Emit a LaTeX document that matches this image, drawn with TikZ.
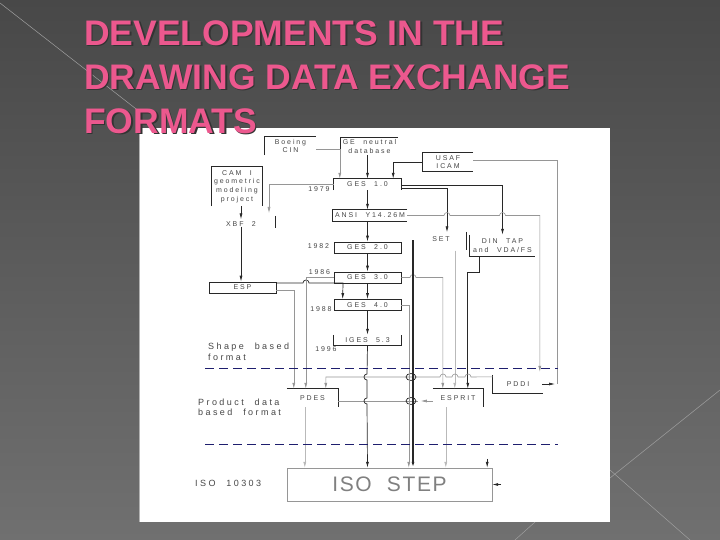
\documentclass[tikz,border=0pt]{standalone}
\usepackage{fontspec}
\usetikzlibrary{arrows.meta}
\newfontfamily\cadfont[LetterSpace=27,WordSpace=2.2]{Liberation Sans}
\newfontfamily\isofont[LetterSpace=8,WordSpace=2]{Liberation Sans}
\newfontfamily\titlefont{Liberation Sans}
\definecolor{bgtop}{RGB}{72,72,72}
\definecolor{bgbot}{RGB}{112,112,112}
\definecolor{pinktitle}{RGB}{236,88,142}
\definecolor{cadink}{RGB}{40,40,40}
\definecolor{cadtext}{RGB}{70,70,70}
\definecolor{cadgray}{RGB}{150,150,150}
\definecolor{cadlight}{RGB}{185,185,185}
\definecolor{sepblue}{RGB}{30,30,110}

\begin{document}
\begin{tikzpicture}[x=1pt,y=-1pt]
   \tikzstyle{every node}=[font=\cadfont\fontsize{7}{8.7}\selectfont, text=cadtext, inner sep=0pt, align=center]
   \tikzstyle{cadbox}=[minimum width=67pt, minimum height=11pt]
   \tikzstyle{fullbox}=[cadbox, draw=cadink, line width=0.7pt]
   \tikzstyle{sidetext}=[font=\cadfont\fontsize{9}{10.5}\selectfont, align=left, anchor=west]
   \tikzstyle{wire}=[draw=cadink, line width=0.7pt]
   \tikzstyle{gwire}=[draw=cadgray, line width=0.6pt]
   \tikzstyle{lwire}=[draw=cadlight, line width=0.6pt]
   \tikzstyle{flow}=[-{Latex[length=6pt,width=3pt]}]
   \tikzstyle{divider}=[draw=sepblue, line width=0.9pt, dash pattern=on 9pt off 5pt]
   \tikzstyle{headline}=[font=\titlefont\bfseries\fontsize{35.5}{44}\selectfont, align=left, anchor=north west]

\shade[top color=bgtop, bottom color=bgbot] (0,0) rectangle (720,540);
\useasboundingbox (0,0) rectangle (720,540);
\draw[gray!75, line width=0.5pt] (0,3) -- (140,112);
\draw[gray!75, line width=0.5pt] (720,390) -- (610,478);
\draw[gray!75, line width=0.5pt] (610,470) -- (690,540);
\draw[gray!75, line width=0.5pt] (515,540) -- (535,522);
\fill[white] (139,128) rectangle (610,522);
\draw[gray!60, line width=1pt] (139,128) -- (139,522);

\node[headline, text=black!80] (titleshade) at (85.5,22) {DEVELOPMENTS IN THE\\DRAWING DATA EXCHANGE\\FORMATS};
\node[headline, text=pinktitle] (title) at (84,20.6) {DEVELOPMENTS IN THE\\DRAWING DATA EXCHANGE\\FORMATS};

\node[cadbox] (ges1) at (367.5,184.5) {GES 1.0};
\node[cadbox, minimum width=74pt] (ansi) at (370,215.5) {ANSI Y14.26M};
\node[fullbox] (ges2) at (367.5,247.5) {GES 2.0};
\node[fullbox] (ges3) at (367.5,277.5) {GES 3.0};
\node[fullbox] (ges4) at (367.5,305) {GES 4.0};
\node[cadbox, minimum height=10pt] (iges) at (367.5,340) {IGES 5.3};
\node[cadbox, minimum width=51pt, minimum height=18pt] (boeing) at (290.5,146) {Boeing\\CIN};
\node[cadbox, minimum width=57pt, minimum height=17pt] (ge) at (369.5,146.5) {GE neutral\\database};
\node[cadbox, minimum width=50pt, minimum height=18pt] (usaf) at (448,162) {USAF\\ICAM};
\node[cadbox, minimum width=50pt, minimum height=39pt] (cam) at (237,186.5) {CAM I\\geometric\\modeling\\project};
\node (xbf) at (241,224) {XBF 2};
\node (set) at (441,239) {SET};
\node[cadbox, minimum width=65pt, minimum height=21pt] (din) at (502.5,245.5) {DIN TAP\\and VDA/FS};
\node[fullbox] (esp) at (242.5,287.5) {ESP};
\node[cadbox, minimum width=51pt, minimum height=18pt] (pdes) at (312.5,398) {PDES};
\node[cadbox, minimum width=50pt, minimum height=18pt] (esprit) at (458,398) {ESPRIT};
\node[cadbox, minimum width=50pt, minimum height=18pt] (pddi) at (518,384) {PDDI};
\node[cadbox, minimum width=205pt, minimum height=33pt, font=\isofont\fontsize{21}{24}\selectfont, text=gray] (iso) at (389.5,484.5) {ISO STEP};

\node (y1979) at (319,189) {1979};
\node (y1982) at (318.5,246) {1982};
\node (y1986) at (319.5,272) {1986};
\node (y1988) at (321,309) {1988};
\node (y1996) at (326,349) {1996};
\node[sidetext] (shape) at (208,352) {Shape based\\format};
\node[sidetext] (product) at (198,407.5) {Product data\\based format};
\node[sidetext] (isonum) at (195,483) {ISO 10303};

\draw[wire] (ges1.south west) |- (ges1.north east) -- (ges1.south east);
\draw[wire] (ansi.north east) -| (ansi.south west) -- (ansi.south east);
\draw[wire] (iges.north west) |- (iges.south east) -- (iges.north east);
\draw[wire] (pdes.north west) -| (pdes.south east);
\draw[wire] (esprit.north west) -| (esprit.south east);
\draw[wire] (pddi.north west) |- (pddi.south east);
\draw[wire] (boeing.south west) |- (boeing.north east);
\draw[wire] (ge.south west) |- (ge.north east);
\draw[wire] (usaf.north east) -| (usaf.south west) -- (usaf.south east);
\draw[wire] (cam.south west) |- (cam.north east) -- (cam.south east);
\draw[wire] (din.north west) |- (din.south east);
\draw[wire] ([xshift=-3pt,yshift=3pt]din.north west) -- ([xshift=-3pt,yshift=-4.5pt]din.west);
\draw[gwire] (iso.south west) rectangle (iso.north east);

\draw[gwire, flow] ([yshift=-3pt]boeing.east) -| ([xshift=6pt]ges1.north west);
\draw[wire, flow] (ges1.north |- ge.south) -- (ges1.north);
\draw[wire, flow] (usaf.west) -| ([xshift=-8pt]ges1.north east);
\draw[wire, flow] (ges1.south) -- (ges1.south |- ansi.north);
\draw[wire, flow] (ges1.south |- ansi.south) -- (ges2.north);
\draw[wire, flow] (ges2.south) -- (ges3.north);
\draw[wire, flow] (ges3.south) -- (ges4.north);
\draw[wire, flow] (ges4.south) -- (iges.north);

\coordinate (xin) at (269,213);
\coordinate (xbar) at (275,216);
\draw[gwire, flow] (ges1.west) -| (xin);
\draw[wire] (xbar) -- ++(0,12);
\draw[wire, flow] (xbf.north |- cam.south) -- ([yshift=2pt]xbf.north);
\draw[wire, flow] (xbf.south) -- (xbf.south |- esp.north);

\draw[wire, flow] ([yshift=4.5pt]esp.east) -- (303,283) arc[start angle=180, end angle=0, radius=3pt] -- (343,283) -- ([xshift=9pt]ges4.north west);
\draw[gwire, flow] (ges3.west) -| ([xshift=19pt]pdes.north west);
\draw[gwire, flow] ([yshift=-3pt]esp.east) -| ([xshift=7pt]pdes.north west);

\draw[wire, flow] ([yshift=-0.5pt]ges1.east) -| (din.north);
\draw[wire, flow] ([yshift=-4pt]ges1.east) -| ([xshift=6pt,yshift=4pt]set.north);
\draw[gwire, flow] (ansi.east) -- (444,215.5) arc[start angle=180, end angle=0, radius=3pt] -- (499.5,215.5) arc[start angle=180, end angle=0, radius=3pt] -| ([xshift=47pt,yshift=3pt]pddi.north west);
\coordinate (pr) at (557,384);
\draw[gwire] ([yshift=2pt]usaf.east) -| (pr);
\draw[wire, flow] ([xshift=-1pt]pddi.east) -- ([xshift=-2pt]pr);

\draw[gwire, flow] (ges3.east) -- (410,277.5) arc[start angle=180, end angle=0, radius=3pt] -| ([xshift=10pt]esprit.north west);
\draw[lwire, flow] ([xshift=22pt,yshift=-9pt]esprit.north west |- set.south) -- ([xshift=22pt]esprit.north west);
\draw[wire, flow] ([xshift=10pt]din.south west) -- ++(0,16) -| ([xshift=35pt]esprit.north west);

\draw[gwire, flow] ([yshift=-2pt]pddi.north west) -- (471,377) arc[start angle=0, end angle=180, radius=3pt] -- (458,377) arc[start angle=0, end angle=180, radius=3pt] -- (446,377) arc[start angle=0, end angle=180, radius=3pt] -| ([xshift=39pt]pdes.north west);
\draw[gwire] ([yshift=-3pt]pdes.east) -- (418,401);
\draw[gwire, flow] ([yshift=-3pt]esprit.west) -- ++(-12,0);
\draw[wire] (411,377) ellipse[x radius=5pt, y radius=3.5pt];
\draw[wire] (411,401) ellipse[x radius=5pt, y radius=3.5pt];

\draw[wire, flow] (iges.south) -- (367,374) arc[start angle=90, end angle=270, radius=3pt] -- (367,398) arc[start angle=90, end angle=270, radius=3pt] -- (iges.south |- iso.north);
\coordinate (tk) at (413,240);
\draw[wire, line width=1.2pt, flow] (tk) -- (tk |- iso.north);
\draw[gwire, flow] (ges4.east) -| ([xshift=122pt]iso.north west);
\draw[lwire, flow] ([xshift=18pt]pdes.south west) -- ([xshift=18pt]pdes.south west |- iso.north);
\draw[lwire, flow] ([xshift=13pt]esprit.south west) -- ([xshift=13pt]esprit.south west |- iso.north);
\draw[wire, flow] ([xshift=-5pt,yshift=9pt]iso.north east) -- ([xshift=-5pt]iso.north east);
\draw[wire, flow] ([xshift=9pt]iso.east) -- (iso.east);

\draw[divider] (205,368) -- (558,368);
\draw[divider] (205,444) -- (558,444);

\end{tikzpicture}
\end{document}
